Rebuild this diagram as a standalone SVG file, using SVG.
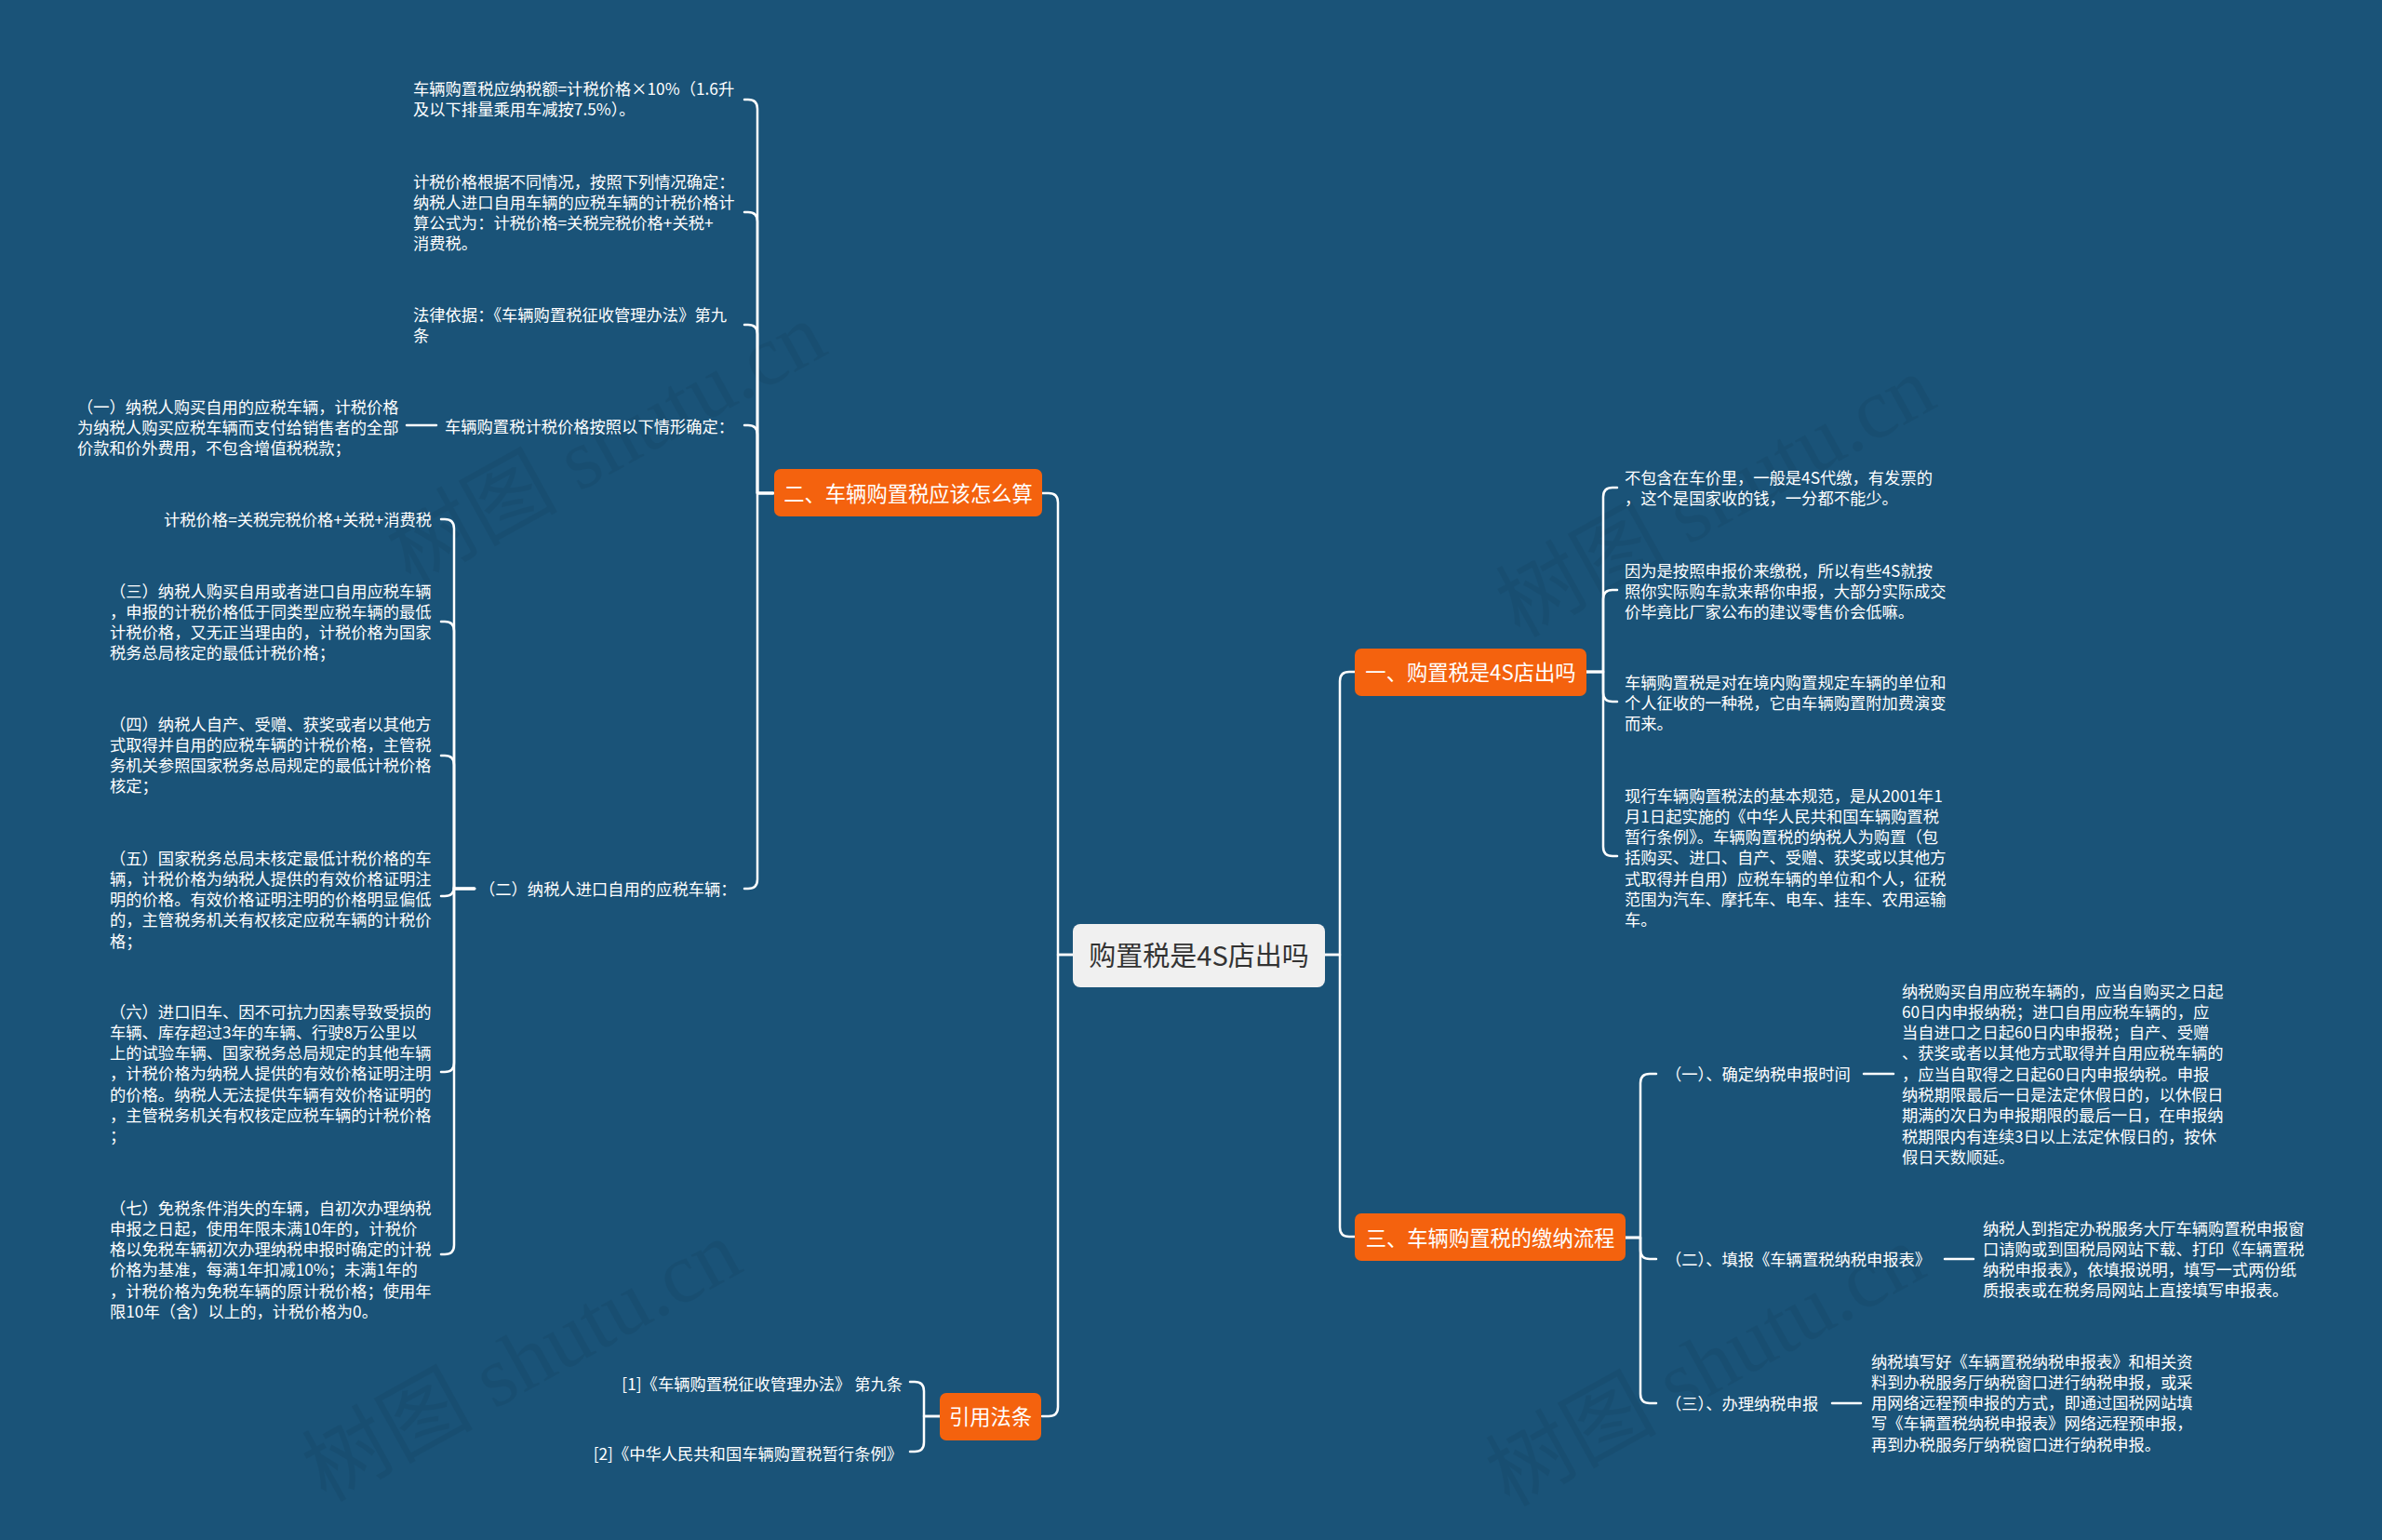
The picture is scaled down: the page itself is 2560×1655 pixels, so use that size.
<svg xmlns="http://www.w3.org/2000/svg" width="2560" height="1655" viewBox="0 0 2560 1655">
<defs>
<style>
.conn{fill:none;stroke:#ffffff;stroke-width:2.5;stroke-linecap:round;stroke-linejoin:round}
.leaf{font-family:"Noto Sans CJK SC","Noto Sans",sans-serif;font-size:17.3px;fill:#ffffff}
.br rect{fill:#F4620E}
.br text{font-family:"Noto Sans CJK SC","Noto Sans",sans-serif;font-size:22.3px;fill:#ffffff;text-anchor:middle}
.root rect{fill:#f0f0f0}
.root text{font-family:"Noto Sans CJK SC","Noto Sans",sans-serif;font-size:29px;fill:#333333;text-anchor:middle}
.wm{font-family:"Liberation Serif","Noto Sans CJK SC",serif;font-size:92px;fill:#000000;opacity:0.05}
</style>
</defs>
<rect x="0" y="0" width="2560" height="1655" fill="#1a5378"/>

<g id="watermarks">
<text class="wm" transform="translate(441,629) rotate(-29)">树图 shutu.cn</text>
<text class="wm" transform="translate(1633,686) rotate(-29)">树图 shutu.cn</text>
<text class="wm" transform="translate(350,1615) rotate(-29)">树图 shutu.cn</text>
<text class="wm" transform="translate(1622,1620) rotate(-29)">树图 shutu.cn</text>
</g>

<g id="connectors">
<path class="conn" d="M1153 1026 H1137 V540 Q1137 530 1127 530 H1120"/>
<path class="conn" d="M1153 1026 H1137 V1512 Q1137 1522 1127 1522 H1120"/>
<path class="conn" d="M1424 1026 H1440 V732 Q1440 722 1450 722 H1456"/>
<path class="conn" d="M1424 1026 H1440 V1319 Q1440 1329 1450 1329 H1456"/>
<path class="conn" d="M831 530 H814 V117 Q814 107 804 107 H800"/>
<path class="conn" d="M831 530 H814 V238 Q814 228 804 228 H800"/>
<path class="conn" d="M831 530 H814 V359 Q814 349 804 349 H800"/>
<path class="conn" d="M831 530 H814 V467 Q814 457 804 457 H800"/>
<path class="conn" d="M831 530 H814 V945 Q814 955 804 955 H800"/>
<path class="conn" d="M469 457 H437"/>
<path class="conn" d="M510 955 H488 V568 Q488 558 478 558 H474"/>
<path class="conn" d="M510 955 H488 V678 Q488 668 478 668 H474"/>
<path class="conn" d="M510 955 H488 V822 Q488 812 478 812 H474"/>
<path class="conn" d="M510 955 H488 V953 Q488 963 478 963 H474"/>
<path class="conn" d="M510 955 H488 V1142 Q488 1152 478 1152 H474"/>
<path class="conn" d="M510 955 H488 V1338 Q488 1348 478 1348 H474"/>
<path class="conn" d="M1010 1522 H993 V1495 Q993 1485 983 1485 H978"/>
<path class="conn" d="M1010 1522 H993 V1550 Q993 1560 983 1560 H978"/>
<path class="conn" d="M1705 722 H1723 V534 Q1723 524 1733 524 H1738"/>
<path class="conn" d="M1705 722 H1723 V644 Q1723 634 1733 634 H1738"/>
<path class="conn" d="M1705 722 H1723 V744 Q1723 754 1733 754 H1738"/>
<path class="conn" d="M1705 722 H1723 V910 Q1723 920 1733 920 H1738"/>
<path class="conn" d="M1747 1330 H1763 V1164 Q1763 1154 1773 1154 H1780"/>
<path class="conn" d="M1747 1330 H1763 V1343 Q1763 1353 1773 1353 H1780"/>
<path class="conn" d="M1747 1330 H1763 V1498 Q1763 1508 1773 1508 H1780"/>
<path class="conn" d="M2003 1154 H2035"/>
<path class="conn" d="M2090 1353 H2121"/>
<path class="conn" d="M1969 1508 H2000"/>
</g>

<g id="root" class="root">
<rect x="1153" y="993" width="271" height="68" rx="8"/>
<text x="1288.5" y="1038">购置税是4S店出吗</text>
</g>

<g id="b2" class="br">
<rect x="832" y="504" width="288" height="51" rx="7"/>
<text x="976" y="538.5">二、车辆购置税应该怎么算</text>
</g>
<g id="b1" class="br">
<rect x="1456" y="697" width="249" height="51" rx="7"/>
<text x="1580.5" y="730.5">一、购置税是4S店出吗</text>
</g>
<g id="b3" class="br">
<rect x="1456" y="1304" width="291" height="51" rx="7"/>
<text x="1601.5" y="1338.5">三、车辆购置税的缴纳流程</text>
</g>
<g id="b4" class="br">
<rect x="1010" y="1497" width="109" height="51" rx="7"/>
<text x="1064.5" y="1530.5">引用法条</text>
</g>

<g id="l2-1"><text class="leaf" x="444" y="101.5"><tspan x="444">车辆购置税应纳税额=计税价格×10%（1.6升</tspan><tspan x="444" dy="22.3">及以下排量乘用车减按7.5%）。</tspan></text></g>
<g id="l2-2"><text class="leaf" x="444" y="201.5"><tspan x="444">计税价格根据不同情况，按照下列情况确定：</tspan><tspan x="444" dy="22.3">纳税人进口自用车辆的应税车辆的计税价格计</tspan><tspan x="444" dy="22.3">算公式为：计税价格=关税完税价格+关税+</tspan><tspan x="444" dy="22.3">消费税。</tspan></text></g>
<g id="l2-3"><text class="leaf" x="444" y="344.5"><tspan x="444">法律依据：《车辆购置税征收管理办法》第九</tspan><tspan x="444" dy="22.3">条</tspan></text></g>
<g id="l2-4"><text class="leaf" x="478" y="464.5">车辆购置税计税价格按照以下情形确定：</text></g>
<g id="l2-4-1"><text class="leaf" x="83" y="443.5"><tspan x="83">（一）纳税人购买自用的应税车辆，计税价格</tspan><tspan x="83" dy="22.3">为纳税人购买应税车辆而支付给销售者的全部</tspan><tspan x="83" dy="22.3">价款和价外费用，不包含增值税税款；</tspan></text></g>
<g id="l2-5"><text class="leaf" x="515" y="961.5">（二）纳税人进口自用的应税车辆：</text></g>
<g id="l2-5-a"><text class="leaf" x="464" y="564.5" text-anchor="end">计税价格=关税完税价格+关税+消费税</text></g>
<g id="l2-5-b"><text class="leaf" x="118" y="641.5"><tspan x="118">（三）纳税人购买自用或者进口自用应税车辆</tspan><tspan x="118" dy="22.3">，申报的计税价格低于同类型应税车辆的最低</tspan><tspan x="118" dy="22.3">计税价格，又无正当理由的，计税价格为国家</tspan><tspan x="118" dy="22.3">税务总局核定的最低计税价格；</tspan></text></g>
<g id="l2-5-c"><text class="leaf" x="118" y="784.5"><tspan x="118">（四）纳税人自产、受赠、获奖或者以其他方</tspan><tspan x="118" dy="22.3">式取得并自用的应税车辆的计税价格，主管税</tspan><tspan x="118" dy="22.3">务机关参照国家税务总局规定的最低计税价格</tspan><tspan x="118" dy="22.3">核定；</tspan></text></g>
<g id="l2-5-d"><text class="leaf" x="118" y="928.5"><tspan x="118">（五）国家税务总局未核定最低计税价格的车</tspan><tspan x="118" dy="22.3">辆，计税价格为纳税人提供的有效价格证明注</tspan><tspan x="118" dy="22.3">明的价格。有效价格证明注明的价格明显偏低</tspan><tspan x="118" dy="22.3">的，主管税务机关有权核定应税车辆的计税价</tspan><tspan x="118" dy="22.3">格；</tspan></text></g>
<g id="l2-5-e"><text class="leaf" x="118" y="1093.5"><tspan x="118">（六）进口旧车、因不可抗力因素导致受损的</tspan><tspan x="118" dy="22.3">车辆、库存超过3年的车辆、行驶8万公里以</tspan><tspan x="118" dy="22.3">上的试验车辆、国家税务总局规定的其他车辆</tspan><tspan x="118" dy="22.3">，计税价格为纳税人提供的有效价格证明注明</tspan><tspan x="118" dy="22.3">的价格。纳税人无法提供车辆有效价格证明的</tspan><tspan x="118" dy="22.3">，主管税务机关有权核定应税车辆的计税价格</tspan><tspan x="118" dy="22.3">；</tspan></text></g>
<g id="l2-5-f"><text class="leaf" x="118" y="1304.5"><tspan x="118">（七）免税条件消失的车辆，自初次办理纳税</tspan><tspan x="118" dy="22.3">申报之日起，使用年限未满10年的，计税价</tspan><tspan x="118" dy="22.3">格以免税车辆初次办理纳税申报时确定的计税</tspan><tspan x="118" dy="22.3">价格为基准，每满1年扣减10%；未满1年的</tspan><tspan x="118" dy="22.3">，计税价格为免税车辆的原计税价格；使用年</tspan><tspan x="118" dy="22.3">限10年（含）以上的，计税价格为0。</tspan></text></g>

<g id="l4-1"><text class="leaf" x="970" y="1493.5" text-anchor="end">[1]《车辆购置税征收管理办法》 第九条</text></g>
<g id="l4-2"><text class="leaf" x="970" y="1568.5" text-anchor="end">[2]《中华人民共和国车辆购置税暂行条例》</text></g>

<g id="l1-1"><text class="leaf" x="1746" y="519.5"><tspan x="1746">不包含在车价里，一般是4S代缴，有发票的</tspan><tspan x="1746" dy="22.3">，这个是国家收的钱，一分都不能少。</tspan></text></g>
<g id="l1-2"><text class="leaf" x="1746" y="619.5"><tspan x="1746">因为是按照申报价来缴税，所以有些4S就按</tspan><tspan x="1746" dy="22.3">照你实际购车款来帮你申报，大部分实际成交</tspan><tspan x="1746" dy="22.3">价毕竟比厂家公布的建议零售价会低嘛。</tspan></text></g>
<g id="l1-3"><text class="leaf" x="1746" y="739.5"><tspan x="1746">车辆购置税是对在境内购置规定车辆的单位和</tspan><tspan x="1746" dy="22.3">个人征收的一种税，它由车辆购置附加费演变</tspan><tspan x="1746" dy="22.3">而来。</tspan></text></g>
<g id="l1-4"><text class="leaf" x="1746" y="861.5"><tspan x="1746">现行车辆购置税法的基本规范，是从2001年1</tspan><tspan x="1746" dy="22.3">月1日起实施的《中华人民共和国车辆购置税</tspan><tspan x="1746" dy="22.3">暂行条例》。车辆购置税的纳税人为购置（包</tspan><tspan x="1746" dy="22.3">括购买、进口、自产、受赠、获奖或以其他方</tspan><tspan x="1746" dy="22.3">式取得并自用）应税车辆的单位和个人，征税</tspan><tspan x="1746" dy="22.3">范围为汽车、摩托车、电车、挂车、农用运输</tspan><tspan x="1746" dy="22.3">车。</tspan></text></g>

<g id="l3-1"><text class="leaf" x="1790" y="1160.5">（一）、确定纳税申报时间</text></g>
<g id="l3-1-1"><text class="leaf" x="2044" y="1071.5"><tspan x="2044">纳税购买自用应税车辆的，应当自购买之日起</tspan><tspan x="2044" dy="22.3">60日内申报纳税；进口自用应税车辆的，应</tspan><tspan x="2044" dy="22.3">当自进口之日起60日内申报税；自产、受赠</tspan><tspan x="2044" dy="22.3">、获奖或者以其他方式取得并自用应税车辆的</tspan><tspan x="2044" dy="22.3">，应当自取得之日起60日内申报纳税。申报</tspan><tspan x="2044" dy="22.3">纳税期限最后一日是法定休假日的，以休假日</tspan><tspan x="2044" dy="22.3">期满的次日为申报期限的最后一日，在申报纳</tspan><tspan x="2044" dy="22.3">税期限内有连续3日以上法定休假日的，按休</tspan><tspan x="2044" dy="22.3">假日天数顺延。</tspan></text></g>
<g id="l3-2"><text class="leaf" x="1790" y="1359.5">（二）、填报《车辆置税纳税申报表》</text></g>
<g id="l3-2-1"><text class="leaf" x="2131" y="1326.5"><tspan x="2131">纳税人到指定办税服务大厅车辆购置税申报窗</tspan><tspan x="2131" dy="22.3">口请购或到国税局网站下载、打印《车辆置税</tspan><tspan x="2131" dy="22.3">纳税申报表》，依填报说明，填写一式两份纸</tspan><tspan x="2131" dy="22.3">质报表或在税务局网站上直接填写申报表。</tspan></text></g>
<g id="l3-3"><text class="leaf" x="1790" y="1514.5">（三）、办理纳税申报</text></g>
<g id="l3-3-1"><text class="leaf" x="2011" y="1469.5"><tspan x="2011">纳税填写好《车辆置税纳税申报表》和相关资</tspan><tspan x="2011" dy="22.3">料到办税服务厅纳税窗口进行纳税申报，或采</tspan><tspan x="2011" dy="22.3">用网络远程预申报的方式，即通过国税网站填</tspan><tspan x="2011" dy="22.3">写《车辆置税纳税申报表》网络远程预申报，</tspan><tspan x="2011" dy="22.3">再到办税服务厅纳税窗口进行纳税申报。</tspan></text></g>
</svg>
